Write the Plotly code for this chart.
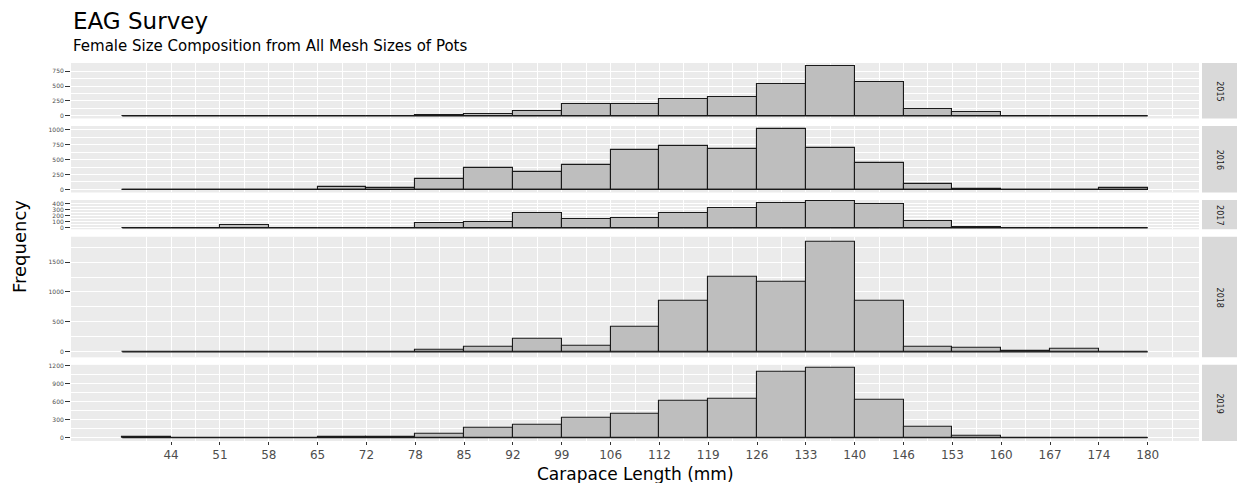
import numpy as np
import plotly.graph_objects as go
from plotly.subplots import make_subplots

# ---------------- data ----------------
years = ["2015", "2016", "2017", "2018", "2019"]

bin_edges = [37.0, 43.81, 50.62, 57.43, 64.24, 71.05, 77.86, 84.67, 91.48, 98.29,
             105.1, 111.9, 118.71, 125.52, 132.33, 139.14, 145.95, 152.76, 159.57,
             166.38, 173.19, 180.0]
tick_labels = ["44", "51", "58", "65", "72", "78", "85", "92", "99", "106", "112",
               "119", "126", "133", "140", "146", "153", "160", "167", "174", "180"]

counts_2015 = [0, 0, 0, 0, 0, 0, 12, 28, 85, 198, 193, 285, 310, 540, 842, 567, 120, 70, 0, 0, 0]
counts_2016 = [0, 0, 0, 0, 39, 22, 177, 361, 300, 414, 664, 720, 675, 1010, 695, 440, 90, 11, 0, 0, 17]
counts_2017 = [0, 0, 45, 0, 0, 0, 85, 102, 251, 150, 164, 243, 330, 421, 444, 396, 110, 23, 0, 0, 0]
counts_2018 = [0, 0, 0, 0, 0, 0, 28, 84, 213, 96, 427, 860, 1247, 1174, 1831, 860, 84, 62, 22, 45, 0]
counts_2019 = [10, 0, 0, 0, 12, 12, 56, 167, 211, 328, 389, 606, 650, 1100, 1156, 628, 178, 22, 0, 0, 0]
counts = [counts_2015, counts_2016, counts_2017, counts_2018, counts_2019]

y_ticks = [[0, 250, 500, 750],
           [0, 250, 500, 750, 1000],
           [0, 100, 200, 300, 400],
           [0, 500, 1000, 1500],
           [0, 300, 600, 900, 1200]]

title = "EAG Survey"
subtitle = "Female Size Composition from All Mesh Sizes of Pots"
x_title = "Carapace Length (mm)"
y_title = "Frequency"

# ---------------- layout constants ----------------
W, H = 1238, 483
ML, MR, MT, MB = 71, 39, 63, 42
PW, PH = W - ML - MR, H - MT - MB
FONT = "DejaVu Sans"
PANEL_BG = "#EBEBEB"
TICK_COL = "#333333"
LABEL_COL = "#4D4D4D"


def xp(px):
    return (px - ML) / PW


def yp(px):
    return (H - MB - px) / PH


edges = np.array(bin_edges)
centers = (edges[:-1] + edges[1:]) / 2
widths = np.diff(edges)
span = edges[-1] - edges[0]
x_range = [edges[0] - 0.05 * span, edges[-1] + 0.05 * span]

major_x = edges[1:]
ext_x = np.concatenate([[major_x[0] - (major_x[1] - major_x[0])], major_x,
                        [major_x[-1] + (major_x[-1] - major_x[-2])]])
minor_x = [(a + b) / 2 for a, b in zip(ext_x[:-1], ext_x[1:])]
minor_x = [v for v in minor_x if x_range[0] <= v <= x_range[1]]

maxes = [max(c) for c in counts]

fig = make_subplots(rows=5, cols=1, shared_xaxes=True,
                    row_heights=maxes, vertical_spacing=7.5 / PH)

for i, c in enumerate(counts):
    fig.add_trace(go.Bar(x=centers, y=c, width=widths,
                         marker=dict(color="#BEBEBE",
                                     line=dict(color="#1A1A1A", width=1.1)),
                         showlegend=False, hoverinfo="x+y"),
                  row=i + 1, col=1)
    fig.add_trace(go.Scatter(x=[edges[0], edges[-1]], y=[0, 0], mode="lines",
                             line=dict(color="#1A1A1A", width=1.2),
                             showlegend=False, hoverinfo="skip"),
                  row=i + 1, col=1)

    m = maxes[i]
    yr = [-0.05 * m, 1.05 * m]
    t = y_ticks[i]
    step = t[1] - t[0]
    ext = [t[0] - step] + t + [t[-1] + step]
    minor_y = [(a + b) / 2 for a, b in zip(ext[:-1], ext[1:])]
    minor_y = [v for v in minor_y if yr[0] <= v <= yr[1]]
    fig.update_yaxes(row=i + 1, col=1, range=yr, tickmode="array", tickvals=t,
                     ticks="outside", ticklen=5, tickwidth=1.3, tickcolor=TICK_COL,
                     tickfont=dict(family=FONT, size=6, color=LABEL_COL),
                     showgrid=True, gridcolor="white", gridwidth=1.1,
                     zeroline=False, showline=False,
                     minor=dict(tickmode="array", tickvals=minor_y, showgrid=True,
                                gridcolor="white", gridwidth=0.5, ticks=""))

fig.update_xaxes(range=x_range, tickmode="array", tickvals=list(major_x),
                 ticktext=tick_labels, showgrid=True, gridcolor="white",
                 gridwidth=1.1, zeroline=False, showline=False, ticks="",
                 minor=dict(tickmode="array", tickvals=minor_x, showgrid=True,
                            gridcolor="white", gridwidth=0.5, ticks=""))
fig.update_xaxes(row=5, col=1, ticks="outside", ticklen=3, tickwidth=1.3,
                 tickcolor=TICK_COL, showticklabels=True,
                 tickfont=dict(family=FONT, size=12, color=LABEL_COL))

# strips
annotations = []
shapes = []
for i, yr_label in enumerate(years):
    ref = "y domain" if i == 0 else f"y{i + 1} domain"
    shapes.append(dict(type="rect", xref="paper", yref=ref,
                       x0=xp(1202), x1=xp(1237), y0=0, y1=1,
                       fillcolor="#D9D9D9", line=dict(width=0), layer="below"))
    annotations.append(dict(text=yr_label, xref="paper", yref=ref,
                            x=xp(1219.5), y=0.5, showarrow=False, textangle=90,
                            xanchor="center", yanchor="middle",
                            font=dict(family=FONT, size=8, color="#1A1A1A")))

annotations += [
    dict(text=title, xref="paper", yref="paper", x=xp(71), y=yp(20.5),
         xanchor="left", yanchor="middle", showarrow=False,
         font=dict(family=FONT, size=23, color="black")),
    dict(text=subtitle, xref="paper", yref="paper", x=xp(71), y=yp(46.5),
         xanchor="left", yanchor="middle", showarrow=False,
         font=dict(family=FONT, size=15, color="black")),
    dict(text=y_title, xref="paper", yref="paper", x=xp(19), y=yp(247),
         xanchor="center", yanchor="middle", showarrow=False, textangle=-90,
         font=dict(family=FONT, size=18, color="black")),
    dict(text=x_title, xref="paper", yref="paper", x=xp(635), y=yp(474),
         xanchor="center", yanchor="middle", showarrow=False,
         font=dict(family=FONT, size=17, color="black")),
]

fig.update_layout(width=W, height=H,
                  margin=dict(l=ML, r=MR, t=MT, b=MB, autoexpand=False),
                  paper_bgcolor="white", plot_bgcolor=PANEL_BG,
                  font=dict(family=FONT), showlegend=False,
                  bargap=0, annotations=annotations, shapes=shapes)

fig.write_html("out.html",
               config={"displayModeBar": False},
               post_script="document.body.style.margin='0';"
                           "document.body.style.overflow='hidden';")
